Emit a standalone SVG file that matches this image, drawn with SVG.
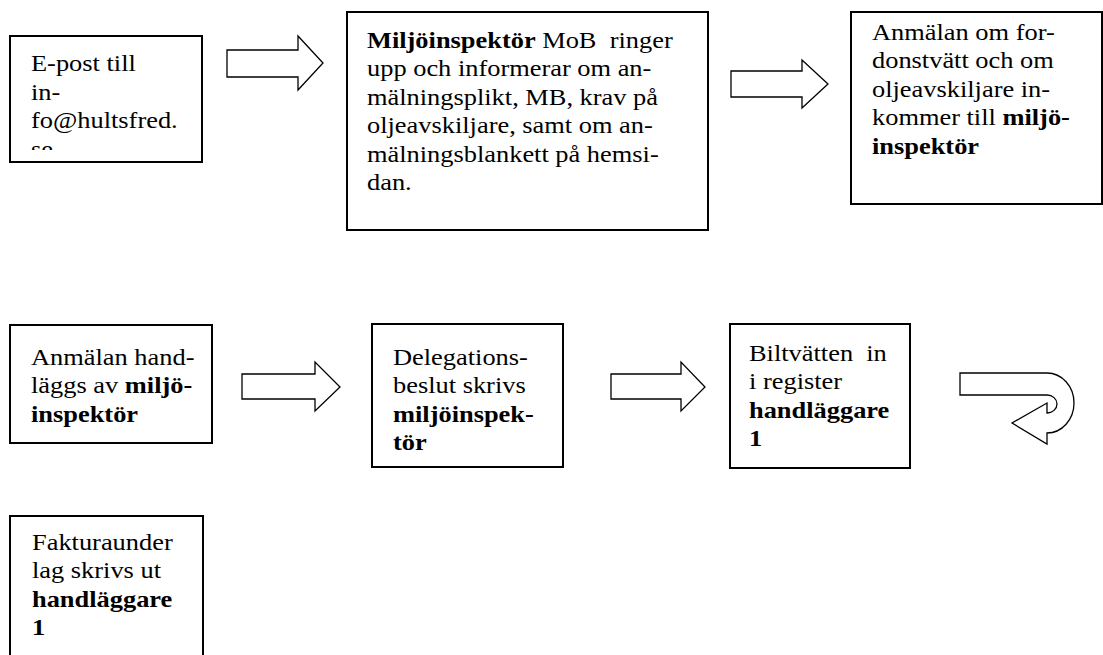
<svg xmlns="http://www.w3.org/2000/svg" width="1103" height="655" viewBox="0 0 1103 655">
<style>
.box{fill:#fff;stroke:#000;stroke-width:2}
.arr{fill:#fff;stroke:#000;stroke-width:1.3;stroke-linejoin:miter}
text{font-family:"Liberation Serif","Times New Roman",serif;font-size:24px;fill:#000;white-space:pre}
.b{font-weight:bold}
</style>
<defs>
<clipPath id="c1"><rect x="11" y="37" width="190" height="113"/></clipPath>
</defs>
<rect width="1103" height="655" fill="#fff"/>
<g id="connectors">
<path class="arr" d="M227 50H298V36L323 63L298 90V77H227Z"/>
<path class="arr" d="M731 71H802V60L828 84L802 108V97H731Z"/>
<path class="arr" d="M242 374H315V362L340 387L315 411V399H242Z"/>
<path class="arr" d="M611 374H681V362L705 387L681 411V399H611Z"/>
<path class="arr" d="M960 373H1047A27 30 0 0 1 1047 433V444L1012 423L1047 403V413A10 9 0 0 0 1047 395H960Z"/>
</g>
<g id="n1">
<rect class="box" x="10" y="36" width="192" height="126"/>
<g clip-path="url(#c1)"><g transform="translate(31 0) scale(1.1 1)"><text><tspan x="0" y="71.5">E-post till</tspan><tspan x="0" y="100">in-</tspan><tspan x="0" y="128.5">fo@hultsfred.</tspan><tspan x="0" y="157">se</tspan></text></g></g>
</g>
<g id="n2">
<rect class="box" x="347" y="12" width="361" height="218"/>
<g transform="translate(367 0) scale(1.1 1)"><text><tspan x="0" y="48"><tspan class="b">Miljöinspektör</tspan> MoB  ringer</tspan><tspan x="0" y="76.5">upp och informerar om an-</tspan><tspan x="0" y="105">mälningsplikt, MB, krav på</tspan><tspan x="0" y="133.5">oljeavskiljare, samt om an-</tspan><tspan x="0" y="162">mälningsblankett på hemsi-</tspan><tspan x="0" y="190.5">dan.</tspan></text></g>
</g>
<g id="n3">
<rect class="box" x="851" y="12" width="251" height="192"/>
<g transform="translate(872 0) scale(1.1 1)"><text><tspan x="0" y="40">Anmälan om for-</tspan><tspan x="0" y="68.5">donstvätt och om</tspan><tspan x="0" y="97">oljeavskiljare in-</tspan><tspan x="0" y="125.5">kommer till <tspan class="b">miljö-</tspan></tspan><tspan x="0" y="154" class="b">inspektör</tspan></text></g>
</g>
<g id="n4">
<rect class="box" x="10" y="325" width="202" height="118"/>
<g transform="translate(31 0) scale(1.1 1)"><text><tspan x="0" y="365">Anmälan hand-</tspan><tspan x="0" y="393.5">läggs av <tspan class="b">miljö-</tspan></tspan><tspan x="0" y="422" class="b">inspektör</tspan></text></g>
</g>
<g id="n5">
<rect class="box" x="372" y="324" width="191" height="143"/>
<g transform="translate(393 0) scale(1.1 1)"><text><tspan x="0" y="365">Delegations-</tspan><tspan x="0" y="393.5">beslut skrivs</tspan><tspan x="0" y="422" class="b">miljöinspek-</tspan><tspan x="0" y="450.5" class="b">tör</tspan></text></g>
</g>
<g id="n6">
<rect class="box" x="730" y="324" width="180" height="144"/>
<g transform="translate(749 0) scale(1.1 1)"><text><tspan x="0" y="361">Biltvätten  in</tspan><tspan x="0" y="389.5">i register</tspan><tspan x="0" y="418" class="b">handläggare</tspan><tspan x="0" y="446.5" class="b">1</tspan></text></g>
</g>
<g id="n7">
<rect class="box" x="10" y="516" width="193" height="150"/>
<g transform="translate(32 0) scale(1.1 1)"><text><tspan x="0" y="550">Fakturaunder</tspan><tspan x="0" y="578.5">lag skrivs ut</tspan><tspan x="0" y="607" class="b">handläggare</tspan><tspan x="0" y="635.5" class="b">1</tspan></text></g>
</g>
</svg>
